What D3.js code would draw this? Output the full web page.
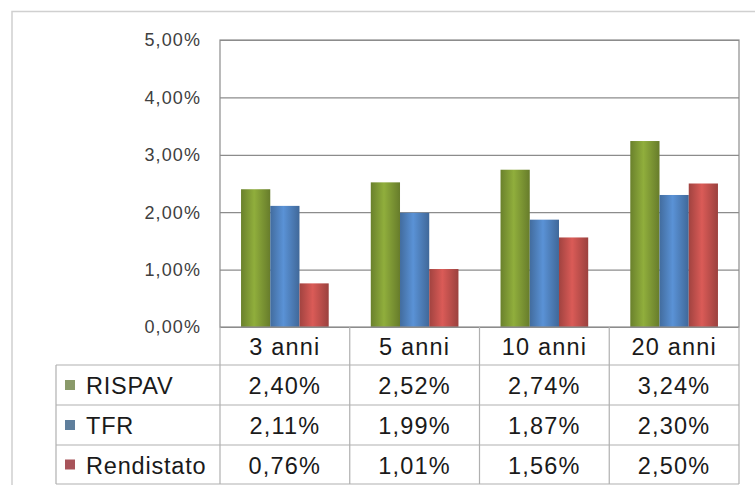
<!DOCTYPE html>
<html>
<head>
<meta charset="utf-8">
<script src="https://cdn.jsdelivr.net/npm/d3@7"></script>
<style>
  body { margin: 0; background: #fff; }
  svg { display: block; }
</style>
</head>
<body>
<svg></svg>
<script>
const categories = ["3 anni", "5 anni", "10 anni", "20 anni"];
const seriesNames = ["RISPAV", "TFR", "Rendistato"];
const rispav = [2.40, 2.52, 2.74, 3.24];
const tfr = [2.11, 1.99, 1.87, 2.30];
const rendistato = [0.76, 1.01, 1.56, 2.50];
const yTicks = [0, 1, 2, 3, 4, 5];

const seriesValues = [rispav, tfr, rendistato];
const colors = ["#7f9a35", "#4f81bd", "#c0504d"];
const markerColors = ["#8a9a6a", "#5f7f9c", "#a8545a"];

const width = 755, height = 485;
const plot = {left: 220, right: 739, top: 40, bottom: 327};
const tableLeft = 56;
const rowEdges = [327, 365, 405, 445, 484];

const fmt = v => v.toFixed(2).replace(".", ",") + "%";

const svg = d3.select("svg")
    .attr("width", width)
    .attr("height", height)
    .style("font-family", "'Liberation Sans', Arial, sans-serif");

// gradients for the bars (darker at the edges, like Excel)
const defs = svg.append("defs");
colors.forEach((c, i) => {
    const g = defs.append("linearGradient")
        .attr("id", "grad" + i)
        .attr("x1", "0").attr("x2", "1").attr("y1", "0").attr("y2", "0");
    const base = d3.color(c);
    g.append("stop").attr("offset", "0%").attr("stop-color", base.darker(0.5));
    g.append("stop").attr("offset", "45%").attr("stop-color", base.brighter(0.35));
    g.append("stop").attr("offset", "100%").attr("stop-color", base.darker(0.6));
});

// outer frame
svg.append("path")
    .attr("d", `M12,${height} V11.5 H${width}`)
    .attr("fill", "none")
    .attr("stroke", "#d0d0d0")
    .attr("stroke-width", 1.5);

const x = d3.scaleBand()
    .domain(categories)
    .range([plot.left, plot.right]);

const x1 = d3.scaleBand()
    .domain(seriesNames)
    .range([0, x.bandwidth()])
    .paddingOuter(0.72)
    .paddingInner(0);

const y = d3.scaleLinear()
    .domain([0, 5])
    .range([plot.bottom, plot.top]);

// gridlines
svg.append("g")
    .selectAll("line")
    .data(yTicks)
    .join("line")
    .attr("x1", plot.left).attr("x2", plot.right)
    .attr("y1", d => y(d) + 0.5).attr("y2", d => y(d) + 0.5)
    .attr("stroke", "#8c8c8c")
    .attr("stroke-width", 1.2);

// y labels
svg.append("g")
    .selectAll("text")
    .data(yTicks)
    .join("text")
    .attr("x", 201)
    .attr("y", d => y(d))
    .attr("dy", "0.35em")
    .attr("text-anchor", "end")
    .attr("font-size", 18)
    .attr("letter-spacing", 1.1)
    .attr("fill", "#404040")
    .text(d => fmt(d));

// bars
const groups = svg.append("g")
    .selectAll("g")
    .data(categories)
    .join("g")
    .attr("transform", d => `translate(${x(d)},0)`);

groups.selectAll("rect")
    .data((c, ci) => seriesNames.map((s, si) => ({s, si, v: seriesValues[si][ci]})))
    .join("rect")
    .attr("x", d => x1(d.s))
    .attr("width", x1.bandwidth())
    .attr("y", d => y(d.v))
    .attr("height", d => y(0) - y(d.v))
    .attr("fill", d => `url(#grad${d.si})`);

// plot area border
svg.append("rect")
    .attr("x", plot.left).attr("y", plot.top)
    .attr("width", plot.right - plot.left)
    .attr("height", plot.bottom - plot.top)
    .attr("fill", "none")
    .attr("stroke", "#8c8c8c")
    .attr("stroke-width", 1.2);

// data table
const table = svg.append("g").attr("stroke", "#b0b0b0").attr("stroke-width", 1.2);

// horizontal lines
table.selectAll("line.h")
    .data(rowEdges.slice(1))
    .join("line")
    .attr("class", "h")
    .attr("x1", tableLeft).attr("x2", plot.right)
    .attr("y1", d => d).attr("y2", d => d);

// vertical lines
const vx = [plot.left, ...categories.map(c => x(c) + x.bandwidth())];
table.selectAll("line.v")
    .data(vx)
    .join("line")
    .attr("class", "v")
    .attr("x1", d => d).attr("x2", d => d)
    .attr("y1", rowEdges[0]).attr("y2", rowEdges[rowEdges.length - 1]);

table.append("line")
    .attr("x1", tableLeft).attr("x2", tableLeft)
    .attr("y1", rowEdges[1]).attr("y2", rowEdges[rowEdges.length - 1]);

const rowMid = i => (rowEdges[i] + rowEdges[i + 1]) / 2;
const cellFont = 23.5, cellSpacing = 1.2;

// header
svg.append("g")
    .selectAll("text")
    .data(categories)
    .join("text")
    .attr("x", d => x(d) + x.bandwidth() / 2)
    .attr("y", rowMid(0) + 1)
    .attr("dy", "0.35em")
    .attr("text-anchor", "middle")
    .attr("font-size", cellFont)
    .attr("letter-spacing", cellSpacing)
    .attr("fill", "#1a1a1a")
    .text(d => d);

// series rows
seriesNames.forEach((s, si) => {
    const row = svg.append("g");
    const ym = rowMid(si + 1);
    row.append("rect")
        .attr("x", 65).attr("y", ym - 5)
        .attr("width", 10).attr("height", 10)
        .attr("fill", markerColors[si]);
    row.append("text")
        .attr("x", 86).attr("y", ym + 1)
        .attr("dy", "0.35em")
        .attr("font-size", cellFont)
        .attr("letter-spacing", 0.8)
        .attr("fill", "#1a1a1a")
        .text(s);
    row.selectAll("text.v")
        .data(seriesValues[si])
        .join("text")
        .attr("class", "v")
        .attr("x", (d, i) => x(categories[i]) + x.bandwidth() / 2)
        .attr("y", ym + 1)
        .attr("dy", "0.35em")
        .attr("text-anchor", "middle")
        .attr("font-size", cellFont)
        .attr("letter-spacing", cellSpacing)
        .attr("fill", "#1a1a1a")
        .text(d => fmt(d));
});
</script>
</body>
</html>
